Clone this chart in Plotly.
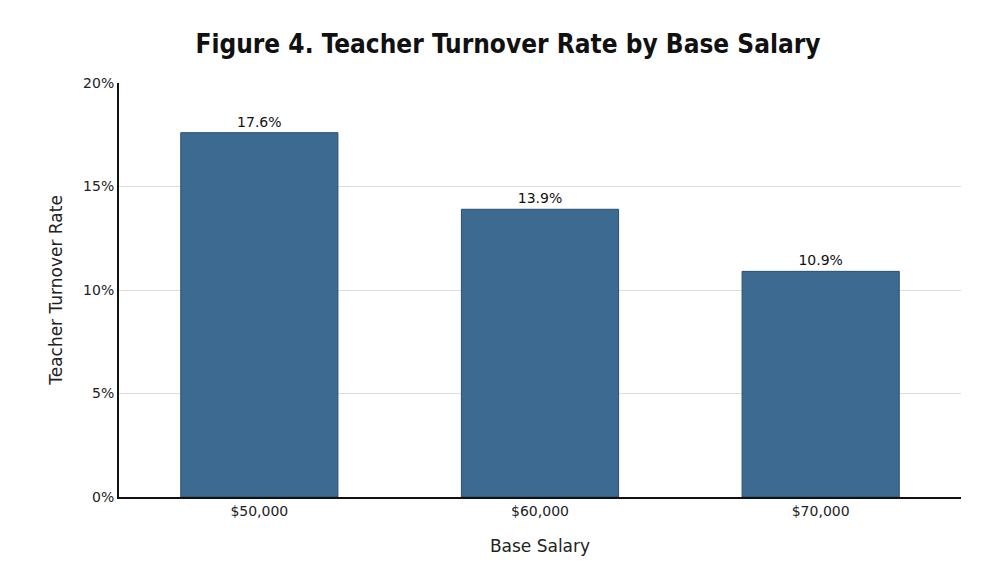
import plotly.graph_objects as go

categories = ["$50,000", "$60,000", "$70,000"]
values = [17.6, 13.9, 10.9]
labels = ["17.6%", "13.9%", "10.9%"]
tick_vals = [0, 5, 10, 15, 20]
tick_text = ["0%", "5%", "10%", "15%", "20%"]

fig = go.Figure(go.Bar(
    x=categories, y=values, text=labels, textposition="outside",
    textfont=dict(family="DejaVu Sans", size=14, color="#111"),
    marker=dict(color="#3d6a91", line=dict(color="#2a4f70", width=1)),
    width=0.56, cliponaxis=False,
))
fig.update_layout(
    width=1000, height=585, plot_bgcolor="white", paper_bgcolor="white",
    margin=dict(l=111, r=47, t=75, b=96),
    title=dict(text="<b>Figure 4. Teacher Turnover Rate by Base Salary</b>", x=0.5, y=0.955,
               xanchor="center", font=dict(family="DejaVu Sans Condensed", size=26, color="#111")),
    font=dict(family="DejaVu Sans", size=14, color="#222"),
    showlegend=False,
)
fig.update_yaxes(range=[0, 20], tickvals=tick_vals, ticktext=tick_text, showgrid=True,
                 gridcolor="#dddddd", showline=True, linecolor="#111", linewidth=2,
                 title=dict(text="Teacher Turnover Rate", standoff=16), ticks="", zeroline=False)
fig.update_xaxes(showline=True, linecolor="#111", linewidth=2,
                 title=dict(text="Base Salary", standoff=22), ticks="")
fig.write_html("out.html")
